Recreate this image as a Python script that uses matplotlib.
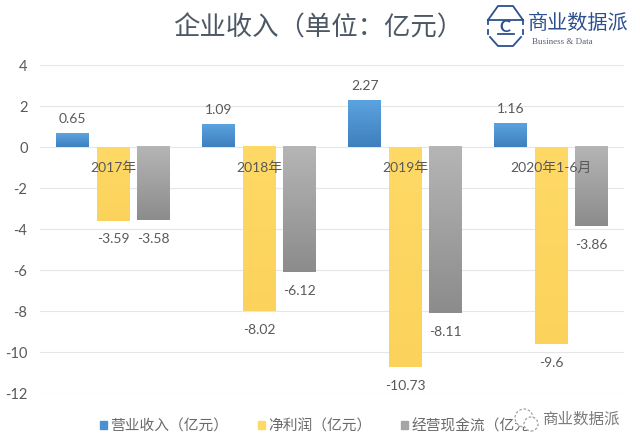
import numpy as np
import matplotlib
matplotlib.use("Agg")
import matplotlib.pyplot as plt
from matplotlib.colors import LinearSegmentedColormap
from matplotlib.lines import Line2D
from matplotlib.patches import Ellipse, Patch

plt.rcParams['font.family'] = ['Lato', 'Noto Sans CJK SC', 'DejaVu Sans']

categories = ['2017年', '2018年', '2019年', '2020年1-6月']
revenue = [0.65, 1.09, 2.27, 1.16]
profit = [-3.59, -8.02, -10.73, -9.6]
cashflow = [-3.58, -6.12, -8.11, -3.86]
series_names = ['营业收入（亿元）', '净利润（亿元）', '经营现金流（亿元）']
y_ticks = [4, 2, 0, -2, -4, -6, -8, -10, -12]

TEXT = '#595959'
W, H = 640, 448


def fx(px):
    return px / W


def fy(py):
    return 1 - py / H


def bubble(px, py, r):
    # round in pixels, drawn over the legend like the pasted watermark
    fig.add_artist(Ellipse((fx(px), fy(py)), 2 * r / W, 2 * r / H, transform=fig.transFigure,
                           facecolor='white', edgecolor='#a0a0a0', linewidth=0.9,
                           linestyle=(0, (2, 1.5)), zorder=6))


fig = plt.figure(figsize=(6.4, 4.48), dpi=100)
ax = fig.add_axes([40 / W, 1 - 393 / H, 584 / W, 328 / H])

x = np.arange(len(categories))
width = 0.222
step = 0.277
# light/dark ends of the fill for each series
fills = [('#5ba3e0', '#3f7fbd'), ('#ffd966', '#fbd35c'), ('#b5b5b5', '#8c8c8c')]
solid = ['#4a90d0', '#ffd966', '#a5a5a5']

for i, values in enumerate([revenue, profit, cashflow]):
    bars = ax.bar(x + (i - 1) * step, values, width, color=solid[i], zorder=2)
    cmap = LinearSegmentedColormap.from_list('f', fills[i])
    for bar, v in zip(bars, values):
        x0, x1 = bar.get_x(), bar.get_x() + bar.get_width()
        grad = np.linspace(0, 1, 64).reshape(-1, 1)
        # top of the bar is the light end
        ax.imshow(grad, cmap=cmap, aspect='auto', zorder=2.1,
                  extent=[x0, x1, min(v, 0), max(v, 0)], origin='upper')
        offset = 10.5 if v > 0 else -13.5
        ax.annotate(f'{v:g}', (bar.get_x() + width / 2, v), xytext=(0, offset),
                    textcoords='offset points', ha='center', va='center',
                    fontsize=10, color=TEXT, zorder=4)

for xi, label in zip(x, categories):
    ax.text(xi, -1.0, label, ha='center', va='center', fontsize=10,
            color=TEXT, zorder=5)

ax.set_xlim(-0.5, len(categories) - 0.5)
ax.set_ylim(-12, 4)
ax.set_yticks(y_ticks)
ax.set_yticklabels([str(t) for t in y_ticks], fontsize=10.5, color=TEXT)
ax.set_xticks([])
ax.tick_params(axis='y', length=0, pad=9)
ax.grid(axis='y', color='#e6e6e6', linewidth=0.8, zorder=0)
ax.set_axisbelow(True)
for side in ax.spines:
    ax.spines[side].set_visible(False)

fig.text(fx(318), fy(28), '企业收入（单位：亿元）', ha='center', va='center',
         fontsize=19, color='#4d5866')

handles = [Patch(color=c) for c in solid]
fig.legend(handles, series_names, loc='center', bbox_to_anchor=(fx(322), fy(426)),
           ncol=3, frameon=False, fontsize=10.6, labelcolor='#6a6a6a', handlelength=0.5,
           handleheight=0.5, handletextpad=0.2, columnspacing=2.0)

# logo, top right
LOGO = '#2c4f8f'
logo_lines = [
    ([488, 498, 513, 523], [20, 6, 6, 20]),
    ([488, 523], [20, 20]),
    ([498, 514], [34, 34]),
    ([490, 498, 513, 521], [37, 46, 46, 37]),
    ([488, 488], [20, 24]),
    ([523, 523], [20, 24]),
    ([488, 488], [30, 34]),
    ([523, 523], [30, 34]),
]
for xs, ys in logo_lines:
    fig.add_artist(Line2D([fx(p) for p in xs], [fy(p) for p in ys], color=LOGO, linewidth=1.3))
fig.text(fx(505), fy(26.5), 'C', ha='center', va='center', fontsize=12,
         color=LOGO, fontweight='bold')
fig.text(fx(578), fy(22), '商业数据派', ha='center', va='center', fontsize=14.5, color=LOGO)
fig.text(fx(532), fy(42), 'Business & Data', ha='left', va='center', fontsize=6.5,
         color='#555f75', family=['Liberation Serif'])

# wechat watermark, bottom right
bubble(524, 418, 9)
bubble(531, 424, 7)
fig.text(fx(581), fy(420), '商业数据派', ha='center', va='center', fontsize=11.2,
         color='#7a7a7a', zorder=7)

fig.savefig('out.png', dpi=100, facecolor='white')
